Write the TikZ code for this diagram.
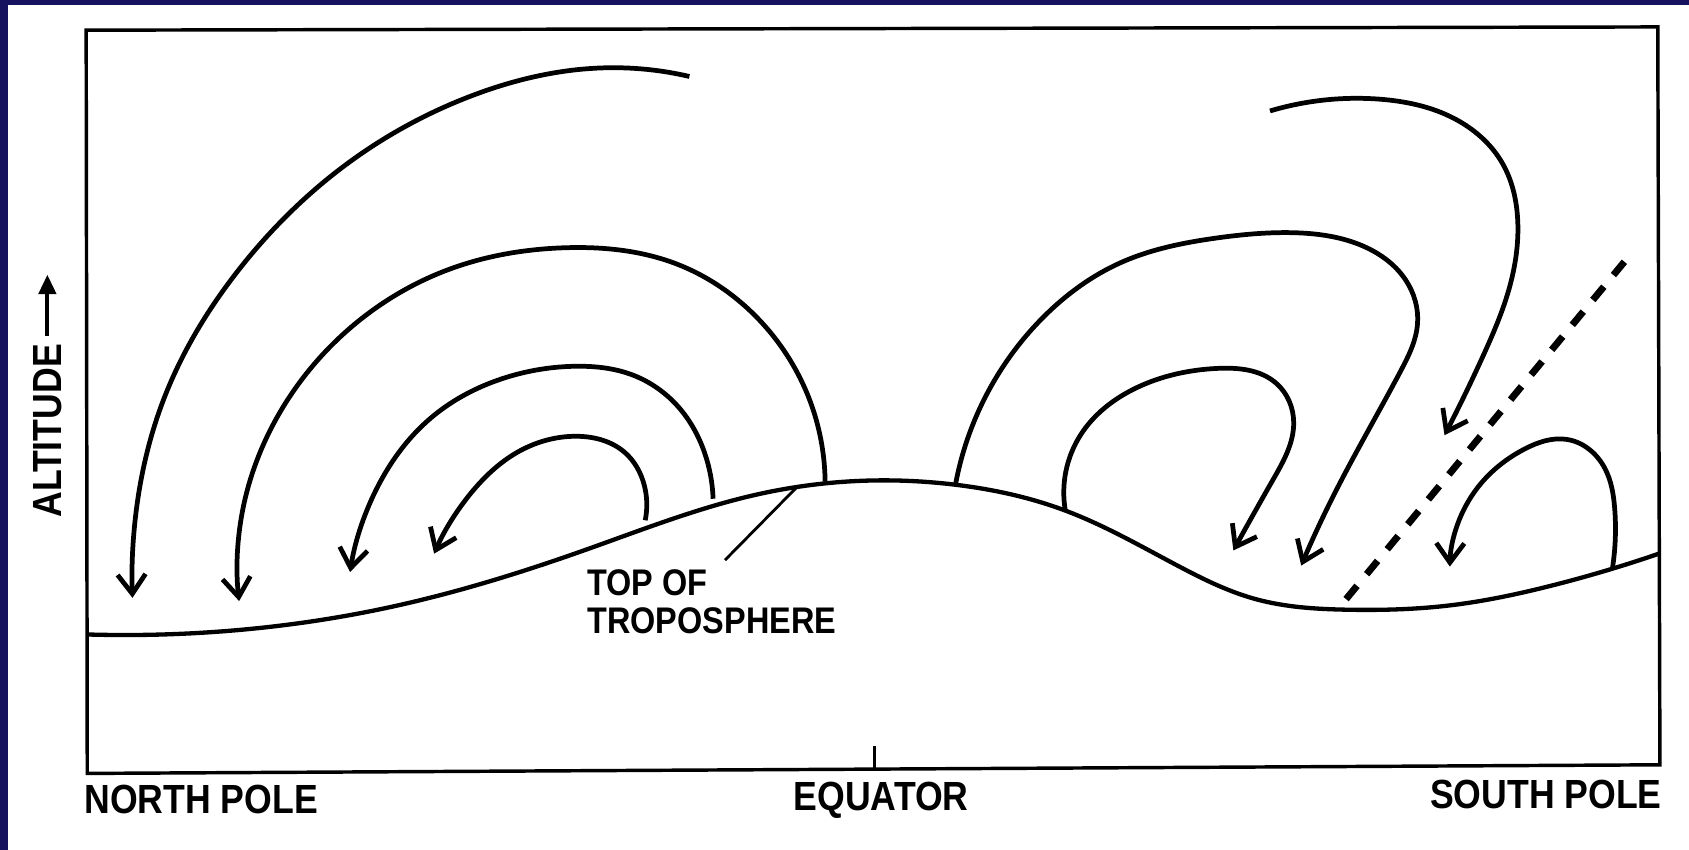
\documentclass[tikz,border=0pt]{standalone}
\usepackage{fontspec}
\setmainfont{Liberation Sans}[FakeStretch=0.875]
\usetikzlibrary{arrows.meta,hobby}
\definecolor{navyedge}{RGB}{22,18,96}
\begin{document}
\begin{tikzpicture}[x=0.5pt,y=-0.5pt,
  flow/.style={line width=2.2pt, line join=round, use Hobby shortcut,
    -{Straight Barb[length=9pt,width=13pt,line join=miter]}},
  tropo/.style={line width=2pt, use Hobby shortcut},
  framebox/.style={line width=1.6pt},
  lab/.style={font=\fontsize{18.9}{22}\selectfont\bfseries, inner sep=0pt},
  smalllab/.style={font=\fontsize{17.2}{20}\selectfont\bfseries, inner sep=0pt},
  cut/.style={line width=3.2pt, dash pattern=on 8pt off 7pt}
]
\useasboundingbox (0,0) rectangle (1568,789);
\fill[white] (0,0) rectangle (1568,789);
\fill[navyedge] (0,0) rectangle (1568,4.6);
\fill[navyedge] (0,0) rectangle (7.5,789);

% frame
\draw[framebox] (80,28) -- (1539,25) -- (1541,710) -- (81,718) -- cycle;
\coordinate (eqb) at (812,714);
\coordinate (eqt) at (812,693);
\draw[line width=1.4pt] (eqb) -- (eqt);

% labels
\node[lab, anchor=base west] (np) at (78,755) {NORTH POLE};
\node[lab, anchor=base] (eq) at (818,752) {EQUATOR};
\node[lab, anchor=base east] (sp) at (1543,751) {SOUTH POLE};
\node[lab, anchor=base west, rotate=90] (alt) at (57,481) {ALTITUDE};
\coordinate (alta) at (44,312);
\coordinate (altb) at (44,255);
\draw[line width=1.8pt, -{Triangle[length=9pt,width=8pt]}] (alta) -- (altb);

\node[smalllab, anchor=base west] (top1) at (545,553) {TOP OF};
\node[smalllab, anchor=base west] (top2) at (545,588) {TROPOSPHERE};
\coordinate (lead1) at (673,520);
\coordinate (lead2) at (740,452);
\draw[line width=1.3pt] (lead1) -- (lead2);

% tropopause
\draw[tropo] (81,589) .. (220,585) .. (365,563) .. (542,511) .. (703,459)
 .. (813,446) .. (887,450) .. (989,474) .. (1093,525) .. (1165,556)
 .. (1250,566) .. (1346,562) .. (1439,544) .. (1540,514);

% northern cells
\draw[flow] (640,71) .. (560,63) .. (435,90) .. (325,150) .. (222,250)
 .. (153,368) .. (127,470) .. (123,555);
\draw[flow] (766,447) .. (747,360) .. (702,294) .. (628,245) .. (524,230)
 .. (417,250) .. (328,302) .. (258,386) .. (226,470) .. (222,558);
\draw[flow] (662,463) .. (654,420) .. (630,378) .. (587,348) .. (535,340)
 .. (471,350) .. (400,388) .. (349,455) .. (325,531);
\draw[flow] (599,483) .. (598,450) .. (580,420) .. (535,405) .. (480,420)
 .. (437,458) .. (403,514);

% southern cells
\draw[flow] (989,474) .. (1003,404) .. (1055,360) .. (1130,342)
 .. (1185,356) .. (1201,392) .. (1182,445) .. (1145,511);
\draw[flow] (887,450) .. (915,368) .. (969,294) .. (1040,244) .. (1129,221)
 .. (1200,216) .. (1262,227) .. (1305,260) .. (1316,300) .. (1300,345)
 .. (1270,400) .. (1238,460) .. (1208,525);
\draw[flow] (1179,103) .. (1280,92) .. (1350,110) .. (1395,152) .. (1409,205)
 .. (1401,268) .. (1377,330) .. (1341,404);
\draw[flow] (1497,527) .. (1499,472) .. (1490,435) .. (1455,408)
 .. (1415,417) .. (1383,440) .. (1358,475) .. (1346,526);

% dashed line
\coordinate (dtop) at (1508,243);
\coordinate (dbot) at (1244,563);
\draw[cut] (dtop) -- (dbot);
\end{tikzpicture}
\end{document}
